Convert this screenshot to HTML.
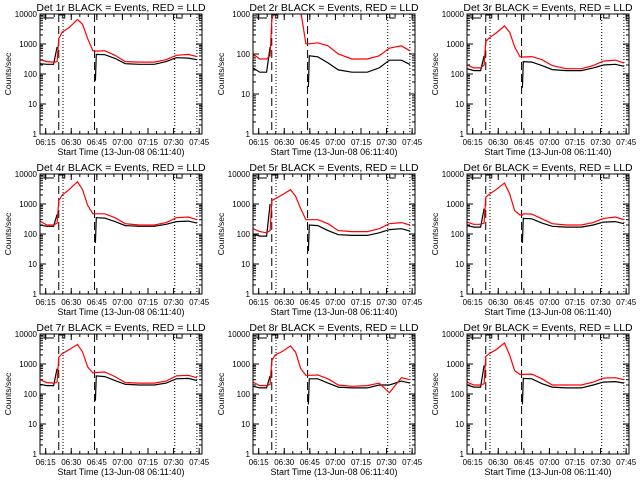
<!DOCTYPE html>
<html><head><meta charset="utf-8"><style>
body{margin:0;background:#fff;width:640px;height:480px;overflow:hidden}
svg{display:block;font-family:"Liberation Sans",sans-serif}
</style></head><body>
<svg id="chart" width="640" height="480" viewBox="0 0 640 480"></svg>
<script>
const times = [0, 4, 8, 10, 11, 13, 17, 22, 25, 28, 31, 32.5, 33, 38, 44, 50, 58, 67, 74, 80, 87, 92];
const panelNames = ["Det 1r","Det 2r","Det 3r","Det 4r","Det 5r","Det 6r","Det 7r","Det 8r","Det 9r"];
const yMaxDecade = [4,3,4,4,4,4,4,4,4];
const red1 = [300,260,250,260,1500,2500,3500,6500,4500,1500,600,580,580,600,420,260,250,250,300,420,450,380];
const black1 = [220,210,210,800,null,null,null,null,null,null,null,60,450,440,330,220,210,210,260,350,340,300];
const red2 = [100,75,75,90,700,1500,3000,5000,3000,1200,180,180,180,190,160,100,75,75,90,140,160,120];
const black2 = [45,35,35,150,null,null,null,null,null,null,null,15,90,85,60,40,35,35,45,70,70,55];
const red3 = [200,160,160,200,1200,1600,2300,4000,2500,800,380,370,370,380,300,190,150,150,190,270,290,230];
const black3 = [150,130,130,400,null,null,null,null,null,null,null,35,260,250,190,140,130,130,160,200,210,180];
const red4 = [270,200,200,230,1300,2000,3000,5500,3000,900,470,470,470,470,350,220,200,200,240,350,370,300];
const black4 = [200,180,180,450,null,null,null,null,null,null,null,50,350,340,260,190,180,180,210,260,270,230];
const red5 = [150,120,110,130,1300,1500,2000,3000,1800,700,300,300,300,300,220,130,120,120,150,220,240,200];
const black5 = [100,85,85,1000,null,null,null,null,null,null,null,27,200,190,130,95,90,90,110,140,150,125];
const red6 = [250,210,210,230,1700,2100,3000,5000,2200,600,430,430,470,460,320,220,200,200,240,330,370,300];
const black6 = [190,170,170,700,null,null,null,null,null,null,null,50,330,320,230,180,170,170,200,250,260,220];
const red7 = [300,240,230,250,1700,2200,3000,4500,2500,800,500,520,520,540,380,240,230,230,270,400,420,350];
const black7 = [210,190,190,700,null,null,null,null,null,null,null,60,400,380,280,210,200,200,230,320,330,280];
const red8 = [250,190,190,210,1300,2000,2600,4000,2500,700,420,420,420,430,320,200,180,190,230,110,350,300];
const black8 = [180,160,160,400,null,null,null,null,null,null,null,45,320,320,230,170,160,160,200,200,270,230];
const red9 = [250,200,200,220,1800,2200,3000,5000,2000,600,450,450,450,460,320,200,200,200,250,340,350,300];
const black9 = [200,170,170,900,null,null,null,null,null,null,null,45,330,320,220,170,160,160,200,250,260,230];
const redSeries = [red1,red2,red3,red4,red5,red6,red7,red8,red9];
const blackSeries = [black1,black2,black3,black4,black5,black6,black7,black8,black9];
const xTickLabels = ["06:15","06:30","06:45","07:00","07:15","07:30","07:45"];
const xTickMinutes = [3.33,18.33,33.33,48.33,63.33,78.33,93.33];
const dashedMinutes = [11,32];
const dottedMinutes = [13.5,79,92];

const NS="http://www.w3.org/2000/svg";
const svg=document.getElementById('chart');
function mk(tag,attrs,parent){const e=document.createElementNS(NS,tag);for(const k in attrs)e.setAttribute(k,attrs[k]);(parent||svg).appendChild(e);return e;}
const T0=0,T1=95,W=162,H=120;

panelNames.forEach((name,i)=>{
  const col=i%3,row=Math.floor(i/3);
  const bx=Math.round(col*213.3)+40, by=row*160+14;
  const g=mk('g',{});
  
  
  const top=yMaxDecade[i];
  const xs=t=>bx+(t-T0)/(T1-T0)*W;
  const ys=v=>by+H-(Math.log10(v))/top*H;
  const cp=mk('clipPath',{id:'c'+i},g);
  mk('rect',{x:bx,y:by,width:W,height:H},cp);
  const tt=mk('text',{x:bx+W/2,y:by-3,'text-anchor':'middle','font-size':10.5},g);
  tt.textContent=name+' BLACK = Events, RED = LLD';
  
  
  const yl=mk('text',{x:0,y:0,'text-anchor':'middle','font-size':8.5,transform:`translate(${bx-29},${by+H/2}) rotate(-90)`},g);
  yl.textContent='Counts/sec';
  
  
  const xl=mk('text',{x:bx+W/2,y:by+H+21,'text-anchor':'middle','font-size':9},g);
  xl.textContent='Start Time (13-Jun-08 06:11:40)';
  
  
  for(let d=0;d<=top;d++){
    const y=ys(Math.pow(10,d));
    const lb=mk('text',{x:bx-3,y:y+3,'text-anchor':'end','font-size':8},g);
    lb.textContent=String(Math.pow(10,d));
    
    
    mk('line',{x1:bx,x2:bx+6,y1:y,y2:y,stroke:'#000'},g);
    mk('line',{x1:bx+W,x2:bx+W-6,y1:y,y2:y,stroke:'#000'},g);
    if(d<top)for(let m=2;m<10;m++){const yy=ys(m*Math.pow(10,d));
      mk('line',{x1:bx,x2:bx+3,y1:yy,y2:yy,stroke:'#000'},g);
      mk('line',{x1:bx+W,x2:bx+W-3,y1:yy,y2:yy,stroke:'#000'},g);}
  }
  xTickMinutes.forEach((m,k)=>{
    const x=xs(m);
    mk('line',{x1:x,x2:x,y1:by+H,y2:by+H-6,stroke:'#000'},g);
    mk('line',{x1:x,x2:x,y1:by,y2:by+6,stroke:'#000'},g);
    const lb=mk('text',{x:x,y:by+H+11,'text-anchor':'middle','font-size':8},g);
    lb.textContent=xTickLabels[k];
    
    
  });
  for(let m=3.33;m<T1;m+=5){const x=xs(m);
    mk('line',{x1:x,x2:x,y1:by+H,y2:by+H-3,stroke:'#000'},g);
    mk('line',{x1:x,x2:x,y1:by,y2:by+3,stroke:'#000'},g);}
  dashedMinutes.forEach(m=>{const l=mk('line',{x1:xs(m),x2:xs(m),y1:by,y2:by+H,stroke:'#000','stroke-dasharray':'8,4'},g);
    });
  dottedMinutes.forEach(m=>{const l=mk('line',{x1:xs(m),x2:xs(m),y1:by,y2:by+H,stroke:'#000','stroke-dasharray':'1,2'},g);
    });
  const f=mk('path',{d:`M${bx+4},${by} v4 h10 M${xs(dashedMinutes[0])},${by+1} h6 v3 h-3 M${xs(dottedMinutes[1])+2},${by} v4 h6`,fill:'none',stroke:'#000'},g);
  
  const path=arr=>{let d='',pen=false;arr.forEach((v,k)=>{if(v==null){pen=false;return;}d+=(pen?'L':'M')+xs(times[k]).toFixed(1)+','+ys(v).toFixed(1);pen=true;});return d;};
  const bl=mk('path',{d:path(blackSeries[i]),fill:'none',stroke:'#000','stroke-width':1.2,'clip-path':`url(#c${i})`},g);
  
  const rd=mk('path',{d:path(redSeries[i]),fill:'none',stroke:'#f00','stroke-width':1.2,'clip-path':`url(#c${i})`},g);
  
  const box=mk('rect',{x:bx,y:by,width:W,height:H,fill:'none',stroke:'#000'},g);
  
});
</script>
</body></html>
